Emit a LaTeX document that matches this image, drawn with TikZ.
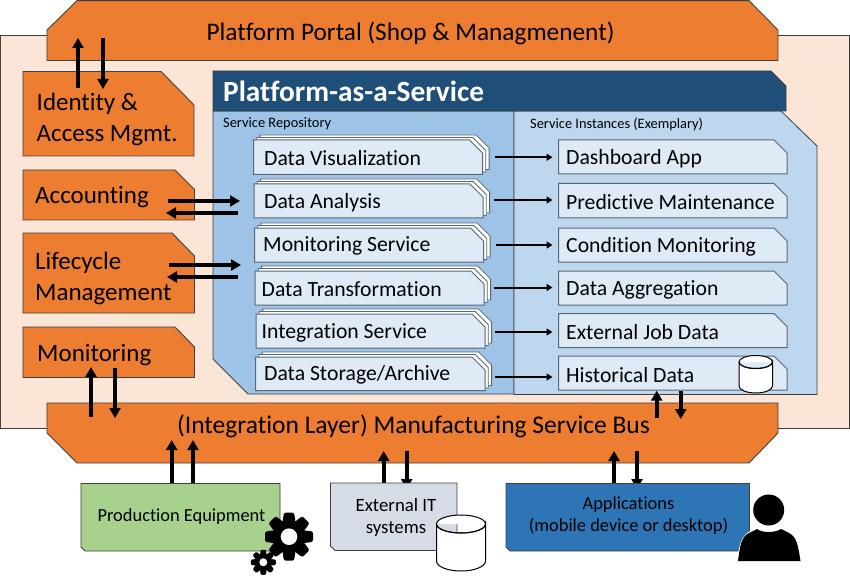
\documentclass[tikz,border=0pt]{standalone}
\usepackage{fontspec}
\setmainfont[Ligatures=NoCommon]{Carlito}
\usetikzlibrary{arrows.meta}
\definecolor{orng}{HTML}{ED7D31}
\definecolor{peach}{HTML}{FBE5D6}
\definecolor{navy}{HTML}{1F4E79}
\definecolor{repo}{HTML}{9DC3E6}
\definecolor{inst}{HTML}{BDD7EE}
\definecolor{lite}{HTML}{DEEBF7}
\definecolor{grn}{HTML}{A9D18E}
\definecolor{gry}{HTML}{D6DCE5}
\definecolor{blu}{HTML}{2E75B6}
\definecolor{edge}{HTML}{404040}
\definecolor{softedge}{HTML}{5A6672}
\tikzset{
  orange shape/.style={fill=orng,draw=edge,line width=0.9pt},
  stackbox/.style={fill=lite,draw=softedge,line width=1pt},
  stacklayer/.style={fill=white,draw=softedge,line width=0.8pt},
  instbox/.style={fill=lite,draw=softedge,line width=1pt},
  label/.style={inner sep=0pt,anchor=west,text=black,font=\fontsize{21.7}{24}\selectfont},
  big/.style={inner sep=0pt,anchor=center,text=black,align=left,font=\fontsize{25}{31}\selectfont},
  small label/.style={inner sep=0pt,anchor=west,font=\fontsize{14.4}{16}\selectfont},
  fat arrow/.style={line width=3.6pt,-{Triangle[length=10pt,width=11pt]}},
  thin arrow/.style={line width=2pt,-{Triangle[length=6pt,width=7pt]}},
  drum/.style={fill=white,draw=black,line width=1pt},
}
\newcommand{\stackedbox}[5]{%
  \foreach \d in {2,1}{%
    \path[stacklayer] (#2+3.3*\d,#3-2.5*\d) -- (#4-13+3.3*\d,#3-2.5*\d) -- (#4+3.3*\d,#3+13-2.5*\d) -- (#4+3.3*\d,#5-2.5*\d) -- (#2+3.3*\d,#5-2.5*\d) -- cycle;}
  \path[stackbox] (#2,#3) -- (#4-13,#3) -- (#4,#3+13) -- (#4,#5) -- (#2,#5) -- cycle;
  \coordinate (#1) at (#4,{(#3+#5)/2});
}
\newcommand{\instancebox}[5]{%
  \path[instbox] (#2,#3) -- (#4-13,#3) -- (#4,#3+13) -- (#4,#5) -- (#2,#5) -- cycle;
  \coordinate (#1) at (#2,{(#3+#5)/2});
}
% gear: cx, cy, body radius, tooth radius, hole radius
\newcommand{\gearicon}[5]{%
  \fill[black] (#1,#2) circle[radius=#3];
  \foreach \k in {0,45,...,315}{%
    \fill[black,rounded corners=0.12*#3,rotate around={\k:(#1,#2)}]
      (#1+0.85*#3,#2-0.38*#3) -- (#4+#1,#2-0.3*#3) -- (#4+#1,#2+0.3*#3) -- (#1+0.85*#3,#2+0.38*#3) -- cycle;}
  \fill[white] (#1,#2) circle[radius=#5];
}
\begin{document}
\begin{tikzpicture}[x=1pt,y=-1pt,line join=miter]
\useasboundingbox (0,0) rectangle (850,577);
\path[fill=peach,draw=edge,line width=0.8pt] (0.7,35) rectangle (849.3,428);
% portal
\path[orange shape] (47,30) -- (77,0.6) -- (749,0.6) -- (778,30) -- (778,60.5) -- (47,60.5) -- cycle;
\node[big,font=\fontsize{25.3}{31}\selectfont] (portal) at (410.5,33.5) {Platform Portal (Shop \& Managmenent)};
% side boxes
\path[orange shape] (23,71.5) -- (161,71.5) -- (194,105) -- (194,156) -- (23,156) -- cycle;
\path[orange shape] (23,170) -- (175,170) -- (194.5,189.5) -- (194.5,220) -- (23,220) -- cycle;
\path[orange shape] (23,233) -- (172,233) -- (194.5,256) -- (194.5,313) -- (23,313) -- cycle;
\path[orange shape] (23,327) -- (175,327) -- (194.5,347) -- (194.5,377.5) -- (23,377.5) -- cycle;
\node[big,anchor=west] (iam) at (36.5,119.5) {Identity \&\\Access Mgmt.};
\node[big,anchor=west] (acct) at (35,197.5) {Accounting};
\node[big,anchor=west] (life) at (35,278) {Lifecycle\\Management};
\node[big,anchor=west] (moni) at (37,355) {Monitoring};
% PaaS
\path[fill=repo,draw=edge,line width=0.8pt] (213,111) -- (514,111) -- (514,394) -- (248,394) -- (213,359) -- cycle;
\path[fill=inst,draw=edge,line width=0.8pt] (514,111) -- (781,111) -- (817,146) -- (817,394.5) -- (514,394.5) -- cycle;
\path[fill=navy,draw=edge,line width=0.8pt] (213,71) -- (771,71) -- (786,86) -- (786,111) -- (213,111) -- cycle;
\node[inner sep=0pt,anchor=west,text=white,font=\fontsize{29.3}{32}\selectfont\bfseries] (paas) at (223,91.5) {Platform-as-a-Service};
\node[small label] (repolabel) at (223,124) {Service Repository};
\node[small label] (instlabel) at (530,124) {Service Instances (Exemplary)};
% stacks
\stackedbox{s1}{253.5}{140}{482.5}{174.5}{}
\stackedbox{s2}{254}{184}{483}{218}{}
\stackedbox{s3}{254.5}{228}{483.5}{262}{}
\stackedbox{s4}{255}{271}{484}{305}{}
\stackedbox{s5}{256}{314}{485}{348}{}
\stackedbox{s6}{255.5}{357}{485}{390.5}{}
\node[label] (t1) at (264,158.5) {Data Visualization};
\node[label] (t2) at (264,202.5) {Data Analysis};
\node[label] (t3) at (263,246) {Monitoring Service};
\node[label] (t4) at (261.5,289.5) {Data Transformation};
\node[label] (t5) at (261.5,332.5) {Integration Service};
\node[label] (t6) at (264,375) {Data Storage/Archive};
% instances
\instancebox{i1}{558.5}{140}{787}{174}{}
\instancebox{i2}{558.5}{183.5}{787}{218}{}
\instancebox{i3}{558.5}{228}{787}{262}{}
\instancebox{i4}{558.5}{271}{787}{305}{}
\instancebox{i5}{558.5}{313.5}{787}{347.5}{}
\instancebox{i6}{558.5}{356}{787}{390}{}
\node[label] (u1) at (566,158.5) {Dashboard App};
\node[label] (u2) at (566,202) {Predictive Maintenance};
\node[label] (u3) at (566,246.5) {Condition Monitoring};
\node[label] (u4) at (566,290) {Data Aggregation};
\node[label] (u5) at (566,332.5) {External Job Data};
\node[label] (u6) at (566,375) {Historical Data};
% drum in Historical Data
\path[drum] (739,362) -- (739,386) arc[x radius=16.75,y radius=7,start angle=180,end angle=0] -- (772.5,362) arc[x radius=16.75,y radius=6.5,start angle=0,end angle=360];
\path[drum,fill=none] (739,362) arc[x radius=16.75,y radius=6.5,start angle=180,end angle=0];
% connectors from the stacks to the instances
\foreach \a/\b/\sx/\dy in {s1/i1/12.5/0,s2/i2/11/1,s3/i3/12/0,s4/i4/9.5/0.5,s5/i5/10/-1,s6/i6/10/-3.25}{
  \draw[thin arrow] ([xshift=\sx pt,yshift=\dy pt]\a) -- ([xshift=-6pt,yshift=\dy pt]\a -| \b);}
% bus
\path[orange shape] (47,403) -- (778,403) -- (778,433) -- (749,463) -- (77,463) -- (47,433) -- cycle;
\node[big,font=\fontsize{25.5}{31}\selectfont] (bus) at (413.5,426.5) {(Integration Layer) Manufacturing Service Bus};
% fat arrows
\foreach \xa/\ya/\xb/\yb [count=\n] in {
 78/88/78/38, 103/38/103/89,
 168/201/240/201, 238/213/166/213,
 169/265/241/265, 238/277/167/277,
 91/417/91/367, 115/368/115/418,
 171.7/495/171.7/440, 193/495/193/440,
 383.7/488.7/383.7/451, 406.7/451/406.7/489,
 614/488.7/614/451, 637/451/637/489,
 656.7/418/656.7/390.7, 680.7/391/680.7/419}{
 \coordinate (fa\n) at (\xa,\ya); \coordinate (fb\n) at (\xb,\yb);
 \draw[fat arrow] (fa\n) -- (fb\n);}
% bottom boxes
\path[fill=grn,draw=edge,line width=0.8pt] (81,483.5) -- (280,483.5) -- (280,551) -- (85,551) -- (81,547) -- cycle;
\node[inner sep=0pt,font=\fontsize{18.4}{20}\selectfont] (pe) at (181.5,517) {Production Equipment};
\gearicon{289}{536.7}{17}{24}{8.3}
\gearicon{263.3}{562.3}{8.7}{12.5}{4}
\path[fill=gry,draw=edge,line width=0.8pt] (330.5,483) -- (457,483) -- (457,550.5) -- (335,550.5) -- (330.5,546) -- cycle;
\node[inner sep=0pt,align=center,font=\fontsize{18.8}{22.5}\selectfont] (ext) at (396,517.5) {External IT\\systems};
\path[drum] (436.5,524) -- (436.5,561) arc[x radius=24.5,y radius=10,start angle=180,end angle=0] -- (485.5,524) arc[x radius=24.5,y radius=9,start angle=0,end angle=360];
\path[drum,fill=none] (436.5,524) arc[x radius=24.5,y radius=9,start angle=180,end angle=0];
\path[fill=blu,draw=edge,line width=0.8pt] (506,483.5) -- (749.5,483.5) -- (749.5,551) -- (510,551) -- (506,547) -- cycle;
\node[inner sep=0pt,align=center,font=\fontsize{18.4}{22}\selectfont] (app) at (628.5,516) {Applications\\(mobile device or desktop)};
% person
\fill[white] (737,561.5) .. controls (739,545) and (741,535) .. (752,530) -- (757,525.5) -- (781,525.5) -- (786,530) .. controls (796,535) and (799,545) .. (801,561.5) -- cycle;
\fill[black] (768.7,510) circle[radius=15.5];
\fill[black] (738,561) .. controls (740,546) and (741,537) .. (749,533) -- (757,529) .. controls (762,533) and (775,533) .. (781,529) -- (789,533) .. controls (797,537) and (798,546) .. (800.5,561) -- cycle;
\end{tikzpicture}
\end{document}
